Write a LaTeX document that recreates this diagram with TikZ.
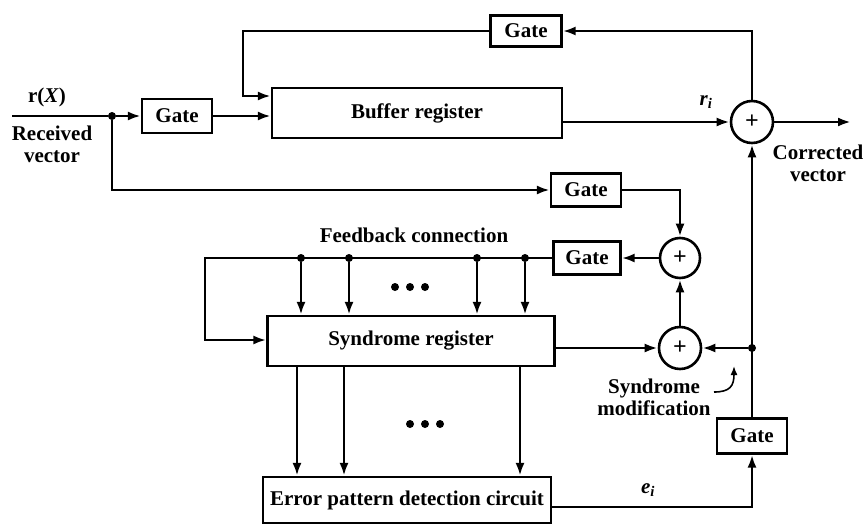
\documentclass[tikz,border=0pt]{standalone}
\usepackage{fontspec}
\setmainfont{Liberation Serif}
\usetikzlibrary{arrows.meta}
\begin{document}
\begin{tikzpicture}[x=1pt,y=-1pt,
  every node/.style={font=\fontsize{21}{24}\selectfont\bfseries},
  ln/.style={line width=2.6pt},
  arr/.style={ln,-{Latex[length=13pt,width=9pt]}},
  gatebox/.style={draw,line width=2.2pt,minimum width=70pt,minimum height=34pt,inner sep=0pt},
  regbox/.style={draw,line width=2.2pt,inner sep=0pt},
  adder/.style={draw,circle,line width=2.6pt,minimum size=42pt,inner sep=0pt,font=\fontsize{24}{26}\selectfont\bfseries},
  lbl/.style={inner sep=0pt,align=center},
  jdot/.style={circle,fill,inner sep=0pt,minimum size=8pt}]
\useasboundingbox (0,0) rectangle (864,530);
% nodes
\node[gatebox] (g1) at (177,116) {Gate};
\node[regbox,minimum width=290pt,minimum height=50pt] (buf) at (417,113) {Buffer register};
\node[gatebox,minimum width=71pt,minimum height=31pt] (gt) at (526,31) {Gate};
\node[adder] (a1) at (752,122) {+};
\node[gatebox,minimum height=33pt] (g2) at (586,190) {Gate};
\node[adder,minimum size=40pt] (a2) at (680,258) {+};
\node[gatebox,minimum width=67pt,minimum height=33pt] (g3) at (587,258) {Gate};
\node[regbox,minimum width=287pt,minimum height=50pt] (syn) at (411,341) {Syndrome register};
\node[adder] (a3) at (680,348) {+};
\node[regbox,minimum width=288pt,minimum height=46pt] (err) at (407,500) {Error pattern detection circuit};
\node[gatebox,minimum height=35pt] (g4) at (752,436) {Gate};
% junctions
\coordinate (in) at (12,116);
\node[jdot] (d0) at (112,116) {};
\node[jdot] (d5) at (752,348) {};
\coordinate (out) at (851,122);
% input path
\draw[ln] (in) -- (d0);
\draw[arr] (d0) -- (g1.west);
\draw[arr] (g1.east) -- (g1.east -| buf.west);
% top loop
\coordinate (tl1) at (243,31);
\coordinate (tl2) at (243,96);
\draw[arr] (gt.west) -- (tl1) -- (tl2) -- (tl2 -| buf.west);
\draw[arr] (a1.north) |- (gt.east);
% buffer to adder
\draw[arr] (a1.west -| buf.east) -- (a1.west);
\draw[arr] (a1.east) -- (out);
% received to gate2
\coordinate (c2) at (112,190);
\draw[arr] (d0) -- (c2) -- (g2.west);
\draw[arr] (g2.east) -| (a2.north);
\draw[arr] (a2.west) -- (g3.east);
% feedback
\coordinate (fb1) at (205,258);
\coordinate (fb2) at (205,340);
\draw[arr] (g3.west) -- (fb1) -- (fb2) -- (fb2 -| syn.west);
\foreach \x [count=\i] in {301,349,477,525}{
  \node[jdot] (t\i) at (\x,258) {};
  \draw[arr] (t\i) -- (t\i |- syn.north);
}
\node[lbl] (fbl) at (414,235) {Feedback connection};
\foreach \x in {395,410,425}{\fill (\x,287) circle (4pt);}
% syndrome to adder3
\draw[arr] (a3.west -| syn.east) -- (a3.west);
\draw[arr] (a3.north) -- (a2.south);
\draw[arr] (d5) -- (a3.east);
\draw[arr] (g4.north) -- (a1.south);
% syndrome to error
\foreach \x [count=\i] in {297,344,520}{
  \coordinate (s\i) at (\x,366);
  \draw[arr] (s\i) -- (s\i |- err.north);
}
\foreach \x in {410,425,440}{\fill (\x,424) circle (4pt);}
\coordinate (e1) at (752,507);
\draw[arr] (err.east |- e1) -- (e1) -- (g4.south);
% labels
\node[lbl] (rx) at (47,97) {r(\textit{X})};
\node[lbl] (rv) at (52,144) {Received\\[-2pt]vector};
\node[lbl] (ri) at (706,102) {\textit{r}\textsubscript{\textit{i}}};
\node[lbl] (cv) at (818,163) {Corrected\\[-2pt]vector};
\node[lbl] (sm) at (654,397) {Syndrome\\[-2pt]modification};
\node[lbl] (ei) at (648,490) {\textit{e}\textsubscript{\textit{i}}};
\draw[line width=1.6pt,-{Latex[length=9pt,width=7pt]}] (714,392) .. controls (730,392) and (734,386) .. (734,366);
\end{tikzpicture}
\end{document}
